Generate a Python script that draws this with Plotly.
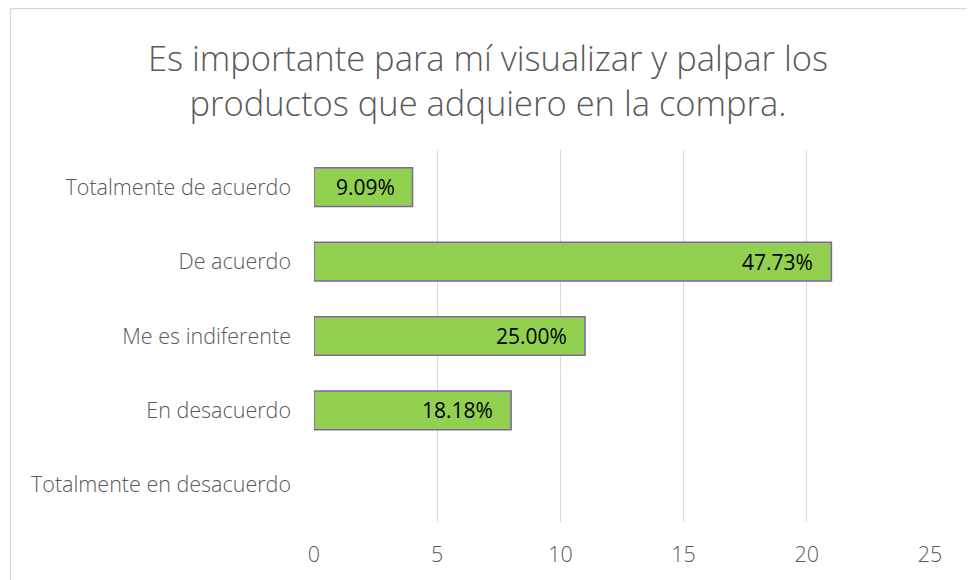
import plotly.graph_objects as go

categories = ["Totalmente de acuerdo", "De acuerdo", "Me es indiferente",
              "En desacuerdo", "Totalmente en desacuerdo"]
counts = [4, 21, 11, 8, 0]
labels = ["9.09%", "47.73%", "25.00%", "18.18%", ""]
x_ticks = [0, 5, 10, 15, 20, 25]

# page body has an 8px margin, so figure coordinates = page coordinates - 8
OFF = 8
W, H = 975 - OFF, 580 - OFF
L, R, T, B = 314 - OFF, W - (930 - OFF), 150 - OFF, H - (522 - OFF)
pw, ph = W - L - R, H - T - B
FONT = "Open Sans"

def px_x(x):
    return (x - L) / pw

def px_y(y):
    return (H - B - y) / ph

fig = go.Figure(go.Bar(
    y=categories, x=counts, orientation="h",
    marker=dict(color="#92D050",
                line=dict(color="#8064A2", width=[1.5 if c > 0 else 0 for c in counts])),
    width=0.52, hoverinfo="x+y",
))

for cat, c, lab in zip(categories, counts, labels):
    if lab:
        fig.add_annotation(x=c, y=cat, text=lab, showarrow=False, xanchor="right",
                           xshift=-16, font=dict(size=21, color="#000000", family=FONT))

fig.update_layout(
    width=W, height=H,
    margin=dict(l=L, r=R, t=T, b=B, autoexpand=False),
    paper_bgcolor="white", plot_bgcolor="white",
    font=dict(family=FONT, color="#595959"),
    title=dict(
        text="Es importante para mí visualizar y palpar los<br>productos que adquiero en la compra.",
        xref="container", x=(488 - OFF) / W, xanchor="center",
        yref="container", y=1 - (71 - OFF) / H, yanchor="middle",
        font=dict(size=34.5, color="#595959", family=FONT, weight=300),
    ),
    showlegend=False,
    xaxis=dict(range=[0, 25], tickvals=x_ticks, showgrid=True, gridcolor="#D9D9D9",
               gridwidth=1.3, zeroline=False, showline=False, fixedrange=True,
               tickfont=dict(size=21.5, color="#595959", weight=300), ticklabelstandoff=17),
    yaxis=dict(categoryorder="array", categoryarray=categories[::-1],
               showgrid=False, zeroline=False, showline=False, fixedrange=True,
               tickfont=dict(size=21.5, color="#595959", weight=300), ticklabelstandoff=22),
    shapes=[dict(type="rect", xref="paper", yref="paper",
                 x0=px_x(10.5 - OFF), x1=px_x(970.5 - OFF),
                 y0=px_y(600), y1=px_y(8.5 - OFF),
                 line=dict(color="#D9D9D9", width=1.3), layer="below")],
)

fig.write_html("out.html")
